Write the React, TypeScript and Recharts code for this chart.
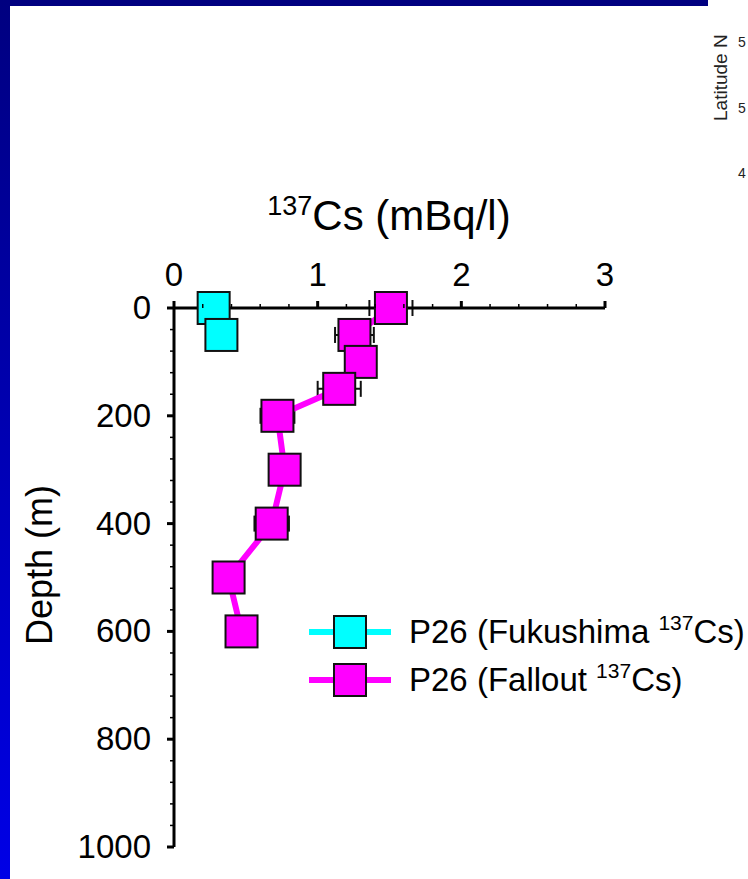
import React from 'react';
import { ScatterChart, Scatter, XAxis, YAxis, ErrorBar, Legend } from 'recharts';

const FONT = '"Liberation Sans", Arial, sans-serif';
const CYAN = '#00ffff';
const MAGENTA = '#ff00ff';

const xTicks = [0, 0.2, 0.4, 0.6, 0.8, 1, 1.2, 1.4, 1.6, 1.8, 2, 2.2, 2.4, 2.6, 2.8, 3];
const xLabels = [0, 1, 2, 3];
const yTicks = [0, 40, 80, 120, 160, 200, 240, 280, 320, 360, 400, 440, 480, 520, 560, 600, 640, 680, 720, 760, 800, 840, 880, 920, 960, 1000];
const yLabels = [0, 200, 400, 600, 800, 1000];

const fukushimaDepth = [0, 50];
const fukushimaCs = [0.276, 0.33];
const falloutDepth = [0, 50, 100, 150, 200, 300, 400, 500, 600];
const falloutCs = [1.51, 1.256, 1.3, 1.15, 0.72, 0.77, 0.68, 0.38, 0.47];
const falloutErr = [0.15, 0.135, 0.05, 0.15, 0.118, 0.05, 0.12, 0.05, 0.05];

const fukushima = fukushimaDepth.map((depth, i) => ({ depth, cs: fukushimaCs[i] }));
const fallout = falloutDepth.map((depth, i) => ({ depth, cs: falloutCs[i], err: falloutErr[i] }));

// leftovers of the map cropped at the right edge of the slide
const mapDigits = [
  { label: '5', top: 34 },
  { label: '5', top: 100 },
  { label: '4', top: 165 },
];

const Square = (props: any) => (
  <rect x={props.cx - 16} y={props.cy - 16} width={32} height={32} fill={props.fill} stroke="#111" strokeWidth={2} />
);

const XTick = (props: any) => {
  const { x, y, payload } = props;
  const major = xLabels.includes(payload.value);
  return (
    <g>
      <line x1={x} x2={x} y1={y} y2={major ? y - 7 : y - 4} stroke="#000" strokeWidth={major ? 3 : 1.5} />
      {major && (
        <text x={x} y={y - 22} fontSize={33} textAnchor="middle" fontFamily={FONT} fill="#000">
          {payload.value}
        </text>
      )}
    </g>
  );
};

const YTick = (props: any) => {
  const { x, y, payload } = props;
  const major = yLabels.includes(payload.value);
  return (
    <g>
      <line x1={x} x2={major ? x - 7 : x - 4} y1={y} y2={y} stroke="#000" strokeWidth={major ? 3 : 1.5} />
      {major && (
        <text x={x - 23} y={y + 11} fontSize={33} textAnchor="end" fontFamily={FONT} fill="#000">
          {payload.value}
        </text>
      )}
    </g>
  );
};

const LegendRow = ({ y, color, name }: { y: number; color: string; name: string }) => (
  <g>
    <line x1={0} x2={82} y1={y} y2={y} stroke={color} strokeWidth={6} />
    <rect x={25} y={y - 16} width={32} height={32} fill={color} stroke="#111" strokeWidth={2} />
    <text x={100} y={y + 11} fontSize={33} fontFamily={FONT} fill="#000">
      P26 ({name} <tspan dy={-13} fontSize={21}>137</tspan>
      <tspan dy={13}>Cs)</tspan>
    </text>
  </g>
);

const ChartLegend = () => (
  <svg width={440} height={90} style={{ display: 'block', overflow: 'visible' }}>
    <LegendRow y={22} color={CYAN} name="Fukushima" />
    <LegendRow y={70} color={MAGENTA} name="Fallout" />
  </svg>
);

export default function App() {
  return (
    <div
      style={{
        position: 'absolute',
        left: 0,
        top: 0,
        width: 748,
        height: 879,
        background: '#fff',
        overflow: 'hidden',
        fontFamily: FONT,
      }}
    >
      <div style={{ position: 'absolute', left: 0, top: 0, width: 708, height: 6, background: '#000080' }} />
      <div
        style={{
          position: 'absolute',
          left: 0,
          top: 0,
          width: 10,
          height: 879,
          background: 'linear-gradient(#000080, #0000e6)',
        }}
      />
      <div
        style={{
          position: 'absolute',
          left: 710,
          top: 121,
          transform: 'rotate(-90deg)',
          transformOrigin: '0 0',
          fontSize: 19,
          color: '#222',
          whiteSpace: 'nowrap',
        }}
      >
        Latitude N
      </div>
      {mapDigits.map((d) => (
        <div key={d.top} style={{ position: 'absolute', left: 738, top: d.top, fontSize: 14, color: '#222' }}>
          {d.label}
        </div>
      ))}
      <ScatterChart
        width={748}
        height={879}
        margin={{ top: 307, right: 143, bottom: 32, left: 173 }}
        style={{ position: 'absolute', left: 0, top: 0 }}
      >
        <XAxis
          type="number"
          dataKey="cs"
          orientation="top"
          domain={[0, 3]}
          ticks={xTicks}
          interval={0}
          height={1}
          tickSize={0}
          tickMargin={0}
          axisLine={{ stroke: '#000', strokeWidth: 3 }}
          tickLine={false}
          tick={<XTick />}
        />
        <YAxis
          type="number"
          dataKey="depth"
          reversed
          domain={[0, 1000]}
          ticks={yTicks}
          interval={0}
          width={1}
          tickSize={0}
          tickMargin={0}
          axisLine={{ stroke: '#000', strokeWidth: 3 }}
          tickLine={false}
          tick={<YTick />}
        />
        <Scatter
          name="P26 (Fukushima 137Cs)"
          data={fukushima}
          fill={CYAN}
          line={{ stroke: CYAN, strokeWidth: 6 }}
          shape={<Square />}
          isAnimationActive={false}
        />
        <Scatter
          name="P26 (Fallout 137Cs)"
          data={fallout}
          fill={MAGENTA}
          line={{ stroke: MAGENTA, strokeWidth: 6 }}
          shape={<Square />}
          isAnimationActive={false}
        >
          <ErrorBar dataKey="err" direction="x" width={8} stroke="#111" strokeWidth={2} isAnimationActive={false} />
        </Scatter>
        <Legend
          layout="horizontal"
          verticalAlign="middle"
          content={<ChartLegend />}
          wrapperStyle={{ position: 'absolute', left: 309, top: 610, width: 440, height: 90 }}
        />
        <text x={389} y={230} fontSize={42} textAnchor="middle" fontFamily={FONT} fill="#000">
          <tspan dy={-15} fontSize={27}>137</tspan>
          <tspan dy={15}>Cs (mBq/l)</tspan>
        </text>
        <text
          x={52}
          y={565}
          fontSize={36}
          textAnchor="middle"
          fontFamily={FONT}
          fill="#000"
          transform="rotate(-90 52 565)"
        >
          Depth (m)
        </text>
      </ScatterChart>
    </div>
  );
}
